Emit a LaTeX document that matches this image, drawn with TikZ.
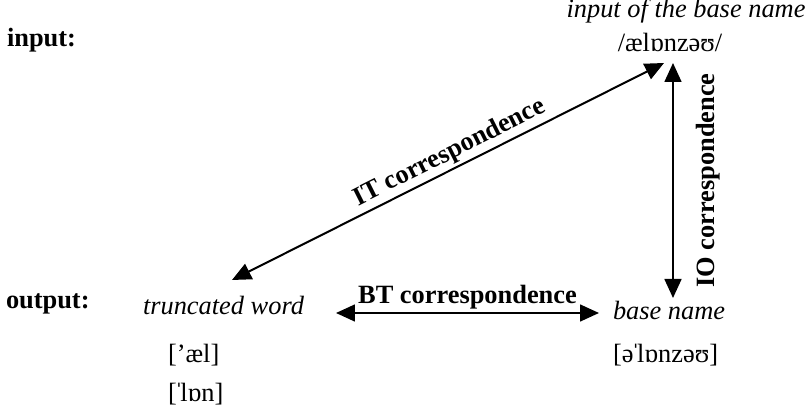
\documentclass[tikz,border=0pt]{standalone}
\usepackage{fontspec}
\setmainfont{Liberation Serif}
\usetikzlibrary{arrows.meta}
\newcommand{\strs}{\kern-0.08em ˈ\kern-0.12em}

\begin{document}
\begin{tikzpicture}[x=0.379pt,y=-0.379pt,line width=0.76pt,
    >={Triangle[length=7.2pt,width=6.4pt]}]
  \tikzstyle{word}=[inner sep=0pt, font=\itshape]
  \tikzstyle{form}=[inner sep=0pt]
  \tikzstyle{level}=[inner sep=0pt, font=\bfseries]
  \tikzstyle{corr}=[inner sep=1pt, font=\bfseries, sloped]
  \useasboundingbox (0,0) rectangle (808,409);

  \node[level, anchor=base west] (L_in)  at (6,47)   {input:};
  \node[level, anchor=base west] (L_out) at (5,309)  {output:};

  \node[word, anchor=base] (W_in)   at (686,18)  {input of the base name};
  \node[form, anchor=base] (F_in)   at (670,52)  {/ælɒnzəʊ/};
  \node[word, anchor=base west] (W_tr)   at (142,315) {truncated word};
  \node[form, anchor=base west] (F_tr1)  at (167,363) {[’æl]};
  \node[form, anchor=base west] (F_tr2)  at (167,402) {[\strs lɒn]};
  \node[word, anchor=base west] (W_base) at (612,320) {base name};
  \node[form, anchor=base west] (F_base) at (612,363) {[ə\strs lɒnzəʊ]};

  \coordinate (IT_a) at (232,280);
  \coordinate (IT_b) at (664,63);
  \coordinate (IO_a) at (673,63);
  \coordinate (IO_b) at (673,298);
  \coordinate (BT_a) at (336,313);
  \coordinate (BT_b) at (599,313);

  \draw[<->] (IT_a) -- node[corr, above, pos=0.52] (C_IT) {IT correspondence} (IT_b);
  \draw[<->] (IO_b) -- node[corr, below=7.5pt] (C_IO) {IO correspondence} (IO_a);
  \draw[<->] (BT_a) -- node[corr, above] (C_BT) {BT correspondence} (BT_b);
\end{tikzpicture}
\end{document}
